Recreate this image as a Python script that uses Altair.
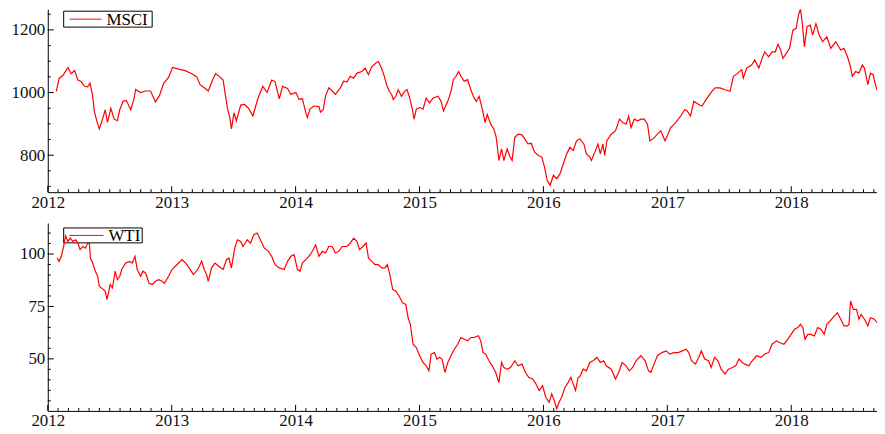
import altair as alt
import pandas as pd

# ---------------- data (decimal years, index levels) ----------------
msci_t_a = [2012.069, 2012.091, 2012.123, 2012.163, 2012.189, 2012.216, 2012.243, 2012.269, 2012.296, 2012.322,
            2012.341, 2012.362, 2012.376, 2012.394, 2012.416, 2012.442, 2012.464, 2012.482, 2012.509, 2012.536,
            2012.562, 2012.581, 2012.608, 2012.634, 2012.669, 2012.696, 2012.709, 2012.749, 2012.789, 2012.829,
            2012.869, 2012.901, 2012.936, 2012.975, 2013.007, 2013.055, 2013.109, 2013.162, 2013.202, 2013.229,
            2013.263, 2013.295, 2013.335, 2013.354, 2013.389, 2013.415, 2013.434, 2013.450, 2013.469, 2013.482,
            2013.503, 2013.522, 2013.557, 2013.588, 2013.620, 2013.655, 2013.695, 2013.735, 2013.770, 2013.807,
            2013.834, 2013.868, 2013.895]
msci_v_a = [1004, 1045, 1055, 1080, 1060, 1070, 1040, 1035, 1020, 1018,
            1030, 990, 940, 912, 884, 915, 945, 905, 950, 915,
            910, 945, 972, 975, 945, 980, 1010, 1000, 1005, 1005,
            970, 990, 1030, 1048, 1080, 1075, 1070, 1060, 1050, 1025,
            1015, 1005, 1045, 1060, 1050, 1040, 990, 950, 920, 884,
            935, 910, 960, 962, 950, 925, 980, 1020, 1000, 1040,
            1035, 980, 1020]

msci_t_b = [2013.935, 2013.962, 2014.002, 2014.028, 2014.055, 2014.082, 2014.095, 2014.116, 2014.148, 2014.188,
            2014.201, 2014.223, 2014.241, 2014.268, 2014.295, 2014.321, 2014.361, 2014.388, 2014.415, 2014.441,
            2014.468, 2014.495, 2014.535, 2014.561, 2014.588, 2014.615, 2014.649, 2014.668, 2014.687, 2014.708,
            2014.735, 2014.756, 2014.775, 2014.788, 2014.809, 2014.828, 2014.854, 2014.881, 2014.900, 2014.921,
            2014.942, 2014.956, 2014.974, 2015.001, 2015.028, 2015.054, 2015.081, 2015.108, 2015.148, 2015.174,
            2015.193, 2015.228, 2015.254, 2015.273, 2015.294, 2015.316, 2015.334, 2015.361, 2015.388, 2015.414,
            2015.441, 2015.459, 2015.481, 2015.507, 2015.529, 2015.547, 2015.574, 2015.601, 2015.619, 2015.641,
            2015.662, 2015.681, 2015.707, 2015.726, 2015.747, 2015.769, 2015.795, 2015.827, 2015.849, 2015.875,
            2015.902, 2015.929, 2015.961, 2015.987, 2016.009, 2016.030, 2016.054, 2016.081, 2016.107, 2016.134,
            2016.160, 2016.187, 2016.214, 2016.240, 2016.267]
msci_v_b = [1013, 994, 1000, 978, 980, 936, 920, 947, 957, 955,
            937, 945, 988, 1015, 1005, 994, 1015, 1036, 1034, 1052,
            1046, 1062, 1067, 1078, 1057, 1083, 1094, 1099, 1083, 1062,
            1025, 1004, 994, 978, 988, 1009, 988, 1004, 1009, 982,
            947, 915, 947, 952, 947, 982, 967, 982, 988, 972,
            941, 972, 1004, 1041, 1052, 1067, 1052, 1036, 1041, 1009,
            982, 972, 988, 947, 904, 930, 899, 883, 857, 783,
            820, 783, 820, 799, 783, 857, 867, 865, 852, 836,
            838, 809, 799, 794, 762, 720, 704, 736, 725, 741,
            772, 804, 825, 815, 846]

msci_t_c = [2016.294, 2016.326, 2016.347, 2016.374, 2016.387, 2016.414, 2016.440, 2016.459, 2016.480, 2016.494,
            2016.512, 2016.547, 2016.582, 2016.614, 2016.640, 2016.667, 2016.688, 2016.707, 2016.733, 2016.760,
            2016.787, 2016.813, 2016.840, 2016.859, 2016.885, 2016.920, 2016.947, 2016.981, 2017.000, 2017.027,
            2017.067, 2017.107, 2017.141, 2017.160, 2017.187, 2017.213, 2017.253, 2017.280, 2017.320, 2017.360,
            2017.386, 2017.426, 2017.466, 2017.506, 2017.533, 2017.568, 2017.600, 2017.613, 2017.640, 2017.680,
            2017.706, 2017.738, 2017.765, 2017.786, 2017.818, 2017.845, 2017.871, 2017.893, 2017.914, 2017.933,
            2017.960, 2017.986, 2018.013, 2018.039, 2018.058, 2018.074, 2018.087, 2018.106, 2018.127, 2018.154,
            2018.173, 2018.199, 2018.226, 2018.253, 2018.287, 2018.319, 2018.359, 2018.399, 2018.426, 2018.453,
            2018.474, 2018.493, 2018.519, 2018.546, 2018.573, 2018.591, 2018.618, 2018.639, 2018.661, 2018.679,
            2018.692]
msci_v_c = [852, 836, 804, 794, 783, 809, 836, 804, 836, 799,
            846, 867, 878, 915, 904, 899, 925, 888, 915, 910,
            915, 915, 899, 846, 852, 867, 878, 846, 862, 888,
            904, 925, 946, 941, 925, 972, 962, 957, 982, 1004,
            1015, 1015, 1009, 1004, 1052, 1062, 1073, 1046, 1078, 1088,
            1104, 1078, 1109, 1130, 1114, 1130, 1130, 1154, 1136, 1109,
            1125, 1141, 1199, 1204, 1247, 1267, 1230, 1146, 1210, 1215,
            1183, 1220, 1183, 1162, 1178, 1141, 1162, 1136, 1141, 1115,
            1088, 1052, 1067, 1062, 1088, 1078, 1025, 1062, 1057, 1025,
            1009]

wti_t_a = [2012.075, 2012.091, 2012.109, 2012.128, 2012.144, 2012.163, 2012.181, 2012.203, 2012.224, 2012.243,
           2012.261, 2012.283, 2012.304, 2012.322, 2012.336, 2012.344, 2012.362, 2012.384, 2012.402, 2012.416,
           2012.442, 2012.464, 2012.477, 2012.490, 2012.504, 2012.522, 2012.544, 2012.562, 2012.581, 2012.597,
           2012.629, 2012.661, 2012.682, 2012.704, 2012.722, 2012.749, 2012.768, 2012.789, 2012.816, 2012.842,
           2012.869, 2012.896, 2012.922, 2012.941, 2012.975, 2013.002, 2013.042, 2013.082, 2013.114, 2013.141,
           2013.175, 2013.210, 2013.242, 2013.263, 2013.282, 2013.295, 2013.322, 2013.349, 2013.381, 2013.415,
           2013.442, 2013.461, 2013.482, 2013.509, 2013.530, 2013.557, 2013.575, 2013.610, 2013.636, 2013.663,
           2013.690, 2013.722, 2013.748, 2013.780, 2013.807, 2013.834, 2013.868, 2013.908]
wti_v_a = [98.1, 96.5, 98.9, 103.6, 108.7, 106, 107.6, 106, 106.8, 105.2,
           102.1, 103.6, 102.8, 105.2, 105, 98.1, 95.7, 91.8, 89.4, 84.7,
           83.4, 82.3, 78.3, 81.5, 85.5, 83.9, 91.8, 87.8, 89.4, 92.6,
           95.7, 96.5, 95.7, 98.9, 92.6, 89.4, 91.8, 91, 86.2, 85.5,
           87, 87.8, 87, 86, 89.4, 92.6, 94.9, 97.3, 95.7, 93.4,
           90.2, 92.6, 96.5, 92.6, 90.2, 87, 93.4, 95.7, 94.2, 92.6,
           97.3, 98.1, 93.4, 102.8, 106.8, 106, 103.6, 106.8, 105.2, 109.2,
           110, 106, 102.8, 101.3, 98.9, 94.9, 93.4, 92.6]

wti_t_b = [2013.935, 2013.962, 2013.988, 2014.015, 2014.036, 2014.055, 2014.082, 2014.108, 2014.135, 2014.162,
           2014.188, 2014.215, 2014.241, 2014.268, 2014.295, 2014.321, 2014.348, 2014.375, 2014.415, 2014.441,
           2014.468, 2014.495, 2014.516, 2014.543, 2014.569, 2014.588, 2014.615, 2014.641, 2014.668, 2014.695,
           2014.721, 2014.740, 2014.761, 2014.783, 2014.809, 2014.836, 2014.862, 2014.889, 2014.908, 2014.926,
           2014.948, 2014.974, 2015.001, 2015.028, 2015.054, 2015.076, 2015.094, 2015.121, 2015.140, 2015.161,
           2015.182, 2015.206, 2015.228, 2015.254, 2015.281, 2015.308, 2015.334, 2015.361, 2015.388, 2015.414,
           2015.441, 2015.475, 2015.494, 2015.513, 2015.534, 2015.561, 2015.587, 2015.614, 2015.641, 2015.662,
           2015.681, 2015.707, 2015.734, 2015.769, 2015.795, 2015.827, 2015.854, 2015.881, 2015.913, 2015.939,
           2015.966, 2015.993, 2016.019, 2016.046, 2016.067, 2016.088, 2016.107, 2016.126, 2016.147, 2016.174,
           2016.200, 2016.222, 2016.240, 2016.259, 2016.280]
wti_v_b = [96.5, 98.9, 99.7, 92.6, 91.8, 95.7, 97.3, 98.9, 101.3, 104.4,
           98.9, 101.3, 100.5, 103.6, 103.6, 100.5, 101.3, 103.6, 103.6, 105.2,
           107.6, 106, 102.1, 103.6, 105.2, 98.1, 96.5, 94.9, 94.9, 93.4,
           93.4, 94.9, 90.2, 83.1, 82.3, 79.9, 76.8, 76, 69.6, 66.5,
           57, 55.4, 51.5, 48.3, 46.7, 44.3, 52.3, 53, 49.9, 50.7,
           49.9, 43.6, 48.3, 51.5, 54.6, 57, 60.2, 59.4, 58.6, 60.2,
           60.2, 61, 58.6, 53, 52.3, 49.1, 46.7, 43.6, 38.7, 48.3,
           45.9, 45.1, 45.9, 49.1, 46.7, 47.5, 43.6, 41.2, 40.4, 38.1,
           34.9, 37.2, 31.7, 29.3, 33.3, 30.1, 26.2, 29.3, 31.7, 36.4,
           38.8, 41.2, 38.1, 34.9, 41.2]

wti_t_c = [2016.294, 2016.320, 2016.347, 2016.374, 2016.400, 2016.432, 2016.459, 2016.486, 2016.507, 2016.547,
           2016.582, 2016.608, 2016.635, 2016.667, 2016.693, 2016.720, 2016.747, 2016.787, 2016.821, 2016.848,
           2016.867, 2016.893, 2016.920, 2016.955, 2016.992, 2017.019, 2017.053, 2017.088, 2017.120, 2017.152,
           2017.173, 2017.195, 2017.227, 2017.253, 2017.274, 2017.301, 2017.333, 2017.354, 2017.381, 2017.408,
           2017.434, 2017.466, 2017.493, 2017.525, 2017.552, 2017.578, 2017.605, 2017.626, 2017.658, 2017.685,
           2017.720, 2017.754, 2017.786, 2017.818, 2017.845, 2017.880, 2017.906, 2017.941, 2017.973, 2017.999,
           2018.026, 2018.053, 2018.074, 2018.093, 2018.111, 2018.133, 2018.159, 2018.186, 2018.213, 2018.239,
           2018.266, 2018.287, 2018.314, 2018.346, 2018.373, 2018.399, 2018.426, 2018.453, 2018.466, 2018.479,
           2018.501, 2018.527, 2018.546, 2018.564, 2018.591, 2018.618, 2018.639, 2018.671, 2018.692]
wti_v_c = [41.5, 45.1, 44.3, 48.3, 49.1, 50.7, 48.3, 49.1, 46.7, 45.1,
           40.4, 43.6, 48.3, 46.7, 44.3, 45.9, 49.1, 51.5, 49.1, 44.3,
           43.6, 47.5, 51.5, 53, 53.8, 52.3, 53, 53, 53.8, 54.6,
           53, 49.1, 47.5, 50.7, 53.8, 49.9, 49.1, 45.9, 50.7, 49.1,
           45.1, 42.8, 45.1, 45.9, 46.7, 49.9, 48.3, 47.5, 46.7, 49.1,
           51.5, 50.7, 52.3, 53, 57, 58.6, 57.8, 57, 59.4, 61.7,
           64.1, 64.9, 66.5, 64.9, 59.4, 61.7, 61.7, 60.9, 64.9, 64.1,
           61.7, 66.5, 68.1, 70.4, 72, 68.9, 65.7, 65.7, 66.5, 77.6,
           73.6, 73.6, 68.9, 71.2, 68.9, 65.7, 69.6, 68.9, 67.3]

year_ticks = [2012, 2013, 2014, 2015, 2016, 2017, 2018]
month_ticks = [2012 + k / 12 for k in range(1, 81) if k % 12 != 0]
x_domain = [2012.0, 2018.692]

msci_major = [800, 1000, 1200]
msci_minor = [700, 750, 850, 900, 950, 1050, 1100, 1150, 1250]
wti_major = [50, 75, 100]
wti_minor = [30, 35, 40, 45, 55, 60, 65, 70, 80, 85, 90, 95, 105, 110]

FONT = "Liberation Serif"
W = 834


def panel(times, values, name, ydomain, ymajor, yminor, H, box):
    df = pd.DataFrame({"year": times, "value": values, "series": name})
    xs = alt.Scale(domain=x_domain, nice=False, zero=False)
    ys = alt.Scale(domain=ydomain, nice=False, zero=False)

    x_axis = alt.Axis(values=year_ticks, format="d", title=None, ticks=False, grid=False,
                      labelPadding=2, labelFlush=False, minExtent=20, maxExtent=20,
                      domainColor="black", domainWidth=1)
    y_axis = alt.Axis(values=ymajor, format="d", title=None, ticks=False, grid=False,
                      labelPadding=3, labelFlush=False, minExtent=38, maxExtent=38,
                      domainColor="black", domainWidth=1)

    bx0, bx1, by0, by1, lx1, tx = box
    one = pd.DataFrame({"series": [name]})
    leg_box = alt.Chart(one).mark_rect(fill="white", stroke="black", strokeWidth=1).encode(
        x=alt.value(bx0), x2=alt.value(bx1), y=alt.value(by0), y2=alt.value(by1))
    leg_line = alt.Chart(one).mark_rule(color="#ff0000", strokeWidth=1).encode(
        x=alt.value(bx0 + 6), x2=alt.value(lx1), y=alt.value((by0 + by1) / 2))
    leg_text = alt.Chart(one).mark_text(align="left", baseline="middle", font=FONT,
                                        fontSize=17, color="black").encode(
        x=alt.value(tx), y=alt.value((by0 + by1) / 2 + 1), text="series:N")

    line = alt.Chart(df).mark_line(color="#ff0000", strokeWidth=1.2, clip=True).encode(
        x=alt.X("year:Q", scale=xs, axis=x_axis),
        y=alt.Y("value:Q", scale=ys, axis=y_axis),
    )

    xmin = alt.Chart(pd.DataFrame({"t": month_ticks})).mark_rule(color="black", strokeWidth=1).encode(
        x=alt.X("t:Q", scale=xs, axis=x_axis), y=alt.value(H), y2=alt.value(H - 3))
    xmaj = alt.Chart(pd.DataFrame({"t": year_ticks})).mark_rule(color="black", strokeWidth=1).encode(
        x=alt.X("t:Q", scale=xs, axis=x_axis), y=alt.value(H), y2=alt.value(H - 6))
    ymin = alt.Chart(pd.DataFrame({"v": yminor})).mark_rule(color="black", strokeWidth=1).encode(
        y=alt.Y("v:Q", scale=ys, axis=y_axis), x=alt.value(0), x2=alt.value(3))
    ymaj = alt.Chart(pd.DataFrame({"v": ymajor})).mark_rule(color="black", strokeWidth=1).encode(
        y=alt.Y("v:Q", scale=ys, axis=y_axis), x=alt.value(0), x2=alt.value(6))

    return alt.layer(leg_box, leg_line, leg_text, line, xmin, xmaj, ymin, ymaj).properties(
        width=W, height=H)


top = panel(msci_t_a + msci_t_b + msci_t_c, msci_v_a + msci_v_b + msci_v_c, "MSCI",
            [682, 1266], msci_major, msci_minor, 184, (16, 105, 2, 18, 54, 59))
bottom = panel(wti_t_a + wti_t_b + wti_t_c, wti_v_a + wti_v_b + wti_v_c, "WTI",
               [25.2, 114.8], wti_major, wti_minor, 189, (16, 95, 5, 20, 56, 61))

chart = alt.vconcat(top, bottom, spacing=11).properties(
    padding={"left": 2, "top": 0, "right": 0, "bottom": 0}
).configure_view(stroke=None).configure_axis(
    labelFont=FONT, labelFontSize=17, labelColor="#111111"
)

chart.save("out.html", embed_options={"renderer": "svg", "actions": False})
